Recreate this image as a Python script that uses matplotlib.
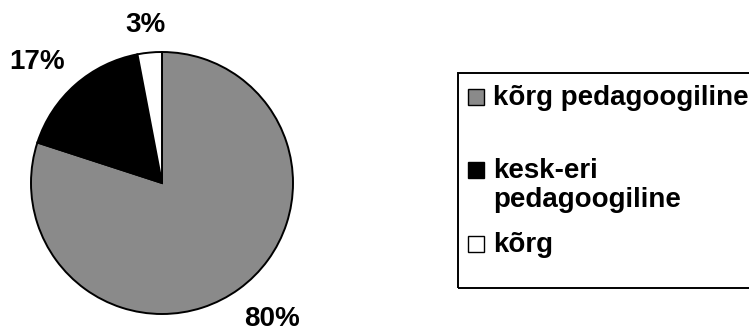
import numpy as np
import matplotlib
matplotlib.use("Agg")
import matplotlib.pyplot as plt
from matplotlib.patches import Rectangle

# education level shares (%)
labels = ["kõrg pedagoogiline", "kesk-eri\npedagoogiline", "kõrg"]
shares = [80, 17, 3]
colors = ["#8a8a8a", "#000000", "#ffffff"]

W, H = 749, 331
plt.rcParams["font.family"] = ["Liberation Sans", "DejaVu Sans"]
plt.rcParams["font.weight"] = "bold"
FS = 20

fig = plt.figure(figsize=(W / 100, H / 100), dpi=100)


def fx(x):
    return x / W


def fy(y):
    return 1 - y / H


# pie: centre (162, 183) px, radius 131 px
r = 131
ax = fig.add_axes([fx(162 - r), fy(183 + r), 2 * r / W, 2 * r / H])
wedges, texts = ax.pie(shares, colors=colors, startangle=90, counterclock=False,
                       labels=["%d%%" % v for v in shares],
                       wedgeprops=dict(edgecolor="black", linewidth=1.4),
                       textprops=dict(fontsize=FS, fontweight="bold"))
ax.set_xlim(-1, 1)
ax.set_ylim(-1, 1)
ax.set_aspect("equal")
ax.axis("off")

# put each percent label just outside its wedge: the label box touches
# a ring slightly bigger than the pie, in the direction of the wedge middle
fig.canvas.draw()
renderer = fig.canvas.get_renderer()
gap = 0.16
cap = 0.716 * FS * 100 / 72 / r   # digit height in radius units
for w, t in zip(wedges, texts):
    ang = np.deg2rad(0.5 * (w.theta1 + w.theta2))
    c, s = np.cos(ang), np.sin(ang)
    m = max(abs(c), abs(s))
    hw = t.get_window_extent(renderer).width / 2 / r
    hh = cap / 2
    x = (1 + gap) * c + c * hw / m
    y = (1 + gap) * s + s * hh / m
    t.set_position((x, y - hh))
    t.set_horizontalalignment("center")
    t.set_verticalalignment("baseline")

# legend box, runs off the right edge
fig.add_artist(Rectangle((fx(458), fy(288)), fx(320), fy(73) - fy(288),
                         transform=fig.transFigure, facecolor="none",
                         edgecolor="black", linewidth=1.4))
baselines = [105, 178, 252]
line_step = 29
for lab, col, yb in zip(labels, colors, baselines):
    fig.add_artist(Rectangle((fx(468), fy(yb)), fx(16), fy(yb - 16) - fy(yb),
                             transform=fig.transFigure, facecolor=col,
                             edgecolor="black", linewidth=1.0))
    for i, line in enumerate(lab.split("\n")):
        fig.text(fx(493), fy(yb + i * line_step), line, fontsize=FS,
                 fontweight="bold", va="baseline", ha="left")

fig.savefig("out.png", dpi=100)
